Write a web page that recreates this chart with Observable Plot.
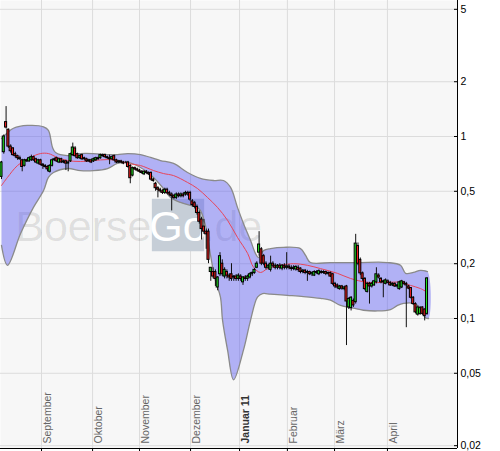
<!DOCTYPE html>
<html><head><meta charset="utf-8">
<script src="https://cdn.jsdelivr.net/npm/d3@7"></script>
<script src="https://cdn.jsdelivr.net/npm/@observablehq/plot@0.6"></script>
<style>body{margin:0;background:#fff} svg{display:block}</style>
</head><body><div id="chart"></div>
<script>
// Month labels and their position on the trading-day index axis
const months = ["September","Oktober","November","Dezember","Januar 11","Februar","März","April"];
const monthPos = [17.4, 39.6, 60, 82.2, 103.5, 124.3, 144.8, 167.8];
const yTicks = [0.02, 0.05, 0.1, 0.2, 0.5, 1, 2, 5];
const xDomain = [-0.43, 198.26];
const yDomain = [0.0193, 5.59];

// Daily candles: [open, high, low, close]
const candles = [
[.60,.73,.58,.72],[.82,1.02,.80,1.00],[1.20,1.46,1.10,1.12],[1.09,1.10,.86,.88],[.88,.90,.81,.83],
[.86,.87,.78,.79],[.80,.82,.76,.78],[.78,.79,.74,.76],[.76,.78,.74,.75],[.74,.75,.64,.68],
[.69,.75,.68,.74],[.74,.75,.72,.73],[.73,.77,.72,.76],[.74,.79,.73,.77],[.77,.78,.73,.74],
[.75,.76,.71,.72],[.71,.75,.70,.74],[.74,.75,.69,.70],[.70,.71,.66,.69],[.69,.70,.67,.68],
[.68,.69,.64,.66],[.64,.70,.63,.69],[.69,.75,.68,.74],[.74,.76,.73,.75],[.76,.77,.72,.73],
[.72,.76,.71,.75],[.75,.76,.71,.72],[.72,.74,.71,.73],[.73,.74,.65,.71],[.71,.73,.64,.72],
[.73,.81,.72,.80],[.79,.92,.78,.87],[.86,.88,.77,.78],[.80,.81,.75,.76],[.76,.79,.75,.78],
[.79,.80,.74,.75],[.76,.77,.74,.75],[.75,.76,.72,.73],[.73,.75,.72,.74],[.74,.75,.71,.72],
[.73,.76,.72,.75],[.74,.77,.73,.76],[.76,.77,.74,.75],[.76,.80,.75,.79],[.79,.80,.77,.78],
[.79,.80,.76,.77],[.77,.78,.75,.76],[.76,.79,.70,.75],[.75,.78,.74,.77],[.78,.79,.73,.74],
[.74,.75,.71,.72],[.72,.74,.71,.73],[.73,.74,.71,.72],[.72,.73,.70,.71],[.72,.73,.71,.72],
[.72,.73,.67,.68],[.69,.70,.55,.59],[.61,.68,.60,.67],[.67,.68,.65,.66],[.66,.67,.64,.65],
[.65,.66,.63,.64],[.64,.65,.62,.63],[.62,.65,.61,.64],[.64,.65,.62,.63],[.63,.64,.61,.62],
[.63,.64,.57,.58],[.58,.59,.56,.57],[.55,.56,.50,.52],[.52,.53,.46,.51],[.51,.52,.49,.50],
[.50,.51,.48,.49],[.49,.52,.48,.51],[.51,.52,.48,.49],[.49,.50,.47,.48],[.48,.49,.39,.47],
[.47,.48,.45,.46],[.46,.49,.45,.48],[.48,.49,.46,.47],[.47,.49,.46,.48],[.48,.49,.46,.47],
[.48,.50,.47,.49],[.49,.50,.47,.48],[.49,.50,.44,.45],[.44,.45,.41,.42],[.43,.44,.40,.41],
[.41,.42,.37,.38],[.38,.39,.33,.34],[.35,.36,.27,.31],[.32,.35,.29,.30],[.30,.31,.24,.29],
[.30,.31,.20,.21],[.18,.19,.16,.19],[.18,.19,.165,.17],[.18,.185,.15,.165],[.148,.17,.142,.168],
[.175,.23,.17,.22],[.20,.21,.17,.175],[.17,.19,.165,.185],[.18,.185,.165,.172],[.172,.176,.16,.168],
[.175,.20,.16,.165],[.168,.172,.16,.17],[.17,.174,.16,.165],[.165,.176,.16,.172],[.17,.174,.16,.165],
[.158,.17,.152,.168],[.168,.172,.16,.165],[.165,.173,.16,.17],[.168,.178,.165,.175],[.175,.18,.17,.178],
[.178,.188,.175,.185],[.19,.205,.188,.20],[.23,.30,.22,.255],[.24,.245,.195,.20],[.22,.225,.195,.20],
[.20,.205,.185,.19],[.19,.198,.185,.195],[.185,.22,.18,.20],[.20,.205,.19,.195],[.195,.20,.185,.19],
[.19,.198,.185,.195],[.195,.20,.185,.19],[.188,.198,.183,.195],[.195,.20,.185,.19],[.19,.23,.185,.193],
[.193,.198,.185,.19],[.19,.195,.182,.187],[.187,.195,.183,.19],[.186,.195,.182,.192],[.19,.195,.18,.185],
[.188,.19,.176,.18],[.18,.186,.176,.183],[.183,.186,.174,.178],[.178,.184,.16,.18],[.18,.182,.172,.175],
[.175,.18,.17,.178],[.172,.183,.17,.18],[.18,.183,.175,.178],[.175,.185,.172,.182],[.18,.184,.175,.178],
[.178,.183,.175,.18],[.18,.182,.172,.176],[.176,.18,.173,.178],[.178,.18,.168,.17],[.175,.177,.152,.155],
[.155,.158,.146,.15],[.152,.155,.145,.148],[.145,.152,.143,.15],[.15,.152,.143,.146],[.145,.15,.142,.148],
[.15,.152,.071,.124],[.115,.13,.112,.128],[.114,.132,.11,.13],[.125,.128,.115,.118],[.123,.29,.12,.258],
[.25,.26,.195,.20],[.21,.215,.172,.177],[.177,.18,.16,.165],[.165,.168,.142,.145],[.14,.158,.138,.155],
[.155,.158,.12,.15],[.15,.158,.147,.155],[.152,.162,.15,.16],[.158,.19,.155,.175],[.172,.176,.165,.168],
[.165,.168,.155,.158],[.158,.162,.13,.16],[.155,.165,.153,.162],[.16,.163,.155,.157],[.157,.16,.15,.152],
[.152,.157,.15,.155],[.155,.157,.148,.15],[.15,.154,.147,.152],[.145,.16,.143,.158],[.148,.162,.146,.16],
[.158,.16,.152,.155],[.155,.158,.089,.152],[.15,.152,.144,.146],[.147,.148,.128,.13],[.13,.132,.118,.12],
[.12,.122,.106,.108],[.105,.117,.103,.115],[.106,.116,.104,.114],[.115,.116,.104,.106],[.112,.113,.097,.103],
[.106,.168,.104,.166]
];

// Bollinger band: [index, value]
const bandUpper = [[0,.975],[2.6,1.05],[5.2,1.11],[11.3,1.15],[18.3,1.13],[20.4,1.08],[22.2,.87],[23.5,.817],
[28.7,.786],[34.3,.806],[40,.806],[46.1,.796],[50.4,.796],[54.8,.806],[60.4,.796],[64.8,.767],[69.1,.738],
[74.8,.711],[80.9,.634],[86.5,.588],[92.2,.573],[96.5,.573],[99.6,.525],[102.6,.408],[105.2,.333],[108.3,.268],
[110.4,.228],[111.7,.216],[113.9,.236],[117,.242],[122.6,.246],[130,.242],[132.2,.222],[134.3,.203],[143,.203],
[150.4,.203],[156,.203],[167.8,.203],[173.5,.196],[175.7,.177],[179.1,.179],[182.2,.184],[185.2,.181]];
const bandLower = [[0,.252],[2.6,.196],[8.3,.293],[13.9,.408],[18.3,.505],[20.4,.596],[22.6,.634],[28.7,.667],
[34.3,.650],[40,.650],[46.1,.667],[50.4,.711],[54.8,.720],[60.4,.676],[66.1,.596],[70.4,.518],[73.5,.462],
[77.8,.434],[82.2,.418],[85.2,.408],[86.5,.392],[88.7,.324],[90.9,.222],[93,.162],[95.2,.131],[96.1,.098],
[98.3,.067],[100.9,.046],[105.2,.067],[108.3,.098],[111.3,.131],[113.5,.137],[117,.136],[124.3,.134],
[131.3,.132],[138.7,.129],[143,.126],[147.4,.118],[153,.114],[157.4,.111],[163.5,.110],[169.1,.112],
[172.2,.118],[174.8,.121],[179.1,.121],[182.2,.114],[184.3,.101],[185.7,.100]];
const bandMid = [[0,.538],[2.6,.596],[7,.693],[12.6,.767],[17,.806],[20.4,.806],[24.3,.767],[28.7,.738],
[34.3,.729],[40,.738],[46.1,.747],[50.4,.738],[54.8,.711],[60.4,.693],[66.1,.650],[70.4,.626],[74.8,.610],
[80.9,.559],[85.2,.518],[89.6,.462],[93.9,.408],[98.3,.346],[102.6,.279],[107,.228],[109.6,.191],[112.6,.179],
[115.7,.188],[121.3,.196],[127,.200],[133,.196],[138.7,.188],[146.1,.177],[151.7,.166],[159.1,.158],
[167.8,.158],[173.5,.158],[177.8,.152],[182.2,.146],[185.2,.139]];

const data = candles.map(([o,h,l,c],i)=>({i,o,h,l,c,up:c>=o}));
const monthData = months.map((m,k)=>({m, x: monthPos[k]}));
const poly = bandUpper.concat(bandLower.slice().reverse());
const fmt = d => String(d).replace(".", ",");

const chart = Plot.plot({
  width: 500, height: 451,
  marginLeft: 0, marginRight: 43, marginTop: 0, marginBottom: 3,
  style: {fontFamily: "'Liberation Sans', Arial, sans-serif", fontSize: "10.5px", background: "#fff", color: "#000"},
  x: {domain: xDomain},
  y: {type: "log", domain: yDomain},
  marks: [
    Plot.frame({fill: "#f7f7f7", stroke: null}),
    Plot.gridX(monthPos, {stroke: "#dcdcdc", strokeOpacity: 1}),
    Plot.gridY(yTicks, {stroke: "#dcdcdc", strokeOpacity: 1}),
    // watermark
    Plot.dot([0], {x: null, y: null, frameAnchor: "middle", symbol: "square", r: 29.5, fill: "#c6ced7", stroke: null, dx: -51, dy: 0.5}),
    Plot.text(["Boerse"], {frameAnchor: "middle", textAnchor: "end", dx: -77.5, dy: 3, fontSize: 43, fill: "#000", fillOpacity: 0.1}),
    Plot.text(["Go"], {frameAnchor: "middle", textAnchor: "middle", dx: -51, dy: 3, fontSize: 43, fill: "#fff"}),
    Plot.text([".de"], {frameAnchor: "middle", textAnchor: "start", dx: -26.5, dy: 3, fontSize: 43, fill: "#000", fillOpacity: 0.1}),
    // Bollinger band
    Plot.line(poly, {x: d => d[0], y: d => d[1], fill: "#5c5cf2", fillOpacity: 0.45, stroke: null, curve: "catmull-rom"}),
    Plot.line(bandUpper, {x: d => d[0], y: d => d[1], stroke: "#8a8a8a", strokeWidth: 1.3, curve: "catmull-rom"}),
    Plot.line(bandLower, {x: d => d[0], y: d => d[1], stroke: "#8a8a8a", strokeWidth: 1.3, curve: "catmull-rom"}),
    Plot.line(bandMid, {x: d => d[0], y: d => d[1], stroke: "#e8455a", strokeWidth: 1, curve: "catmull-rom"}),
    // candles
    Plot.ruleX(data, {x: "i", y1: "l", y2: "h", stroke: "#111", strokeWidth: 1}),
    Plot.rect(data, {x1: d => d.i - 0.45, x2: d => d.i + 0.45, y1: "o", y2: "c", fill: d => d.up ? "#22e022" : "#ee2020", stroke: "#000", strokeWidth: 1}),
    // axes
    Plot.ruleY([yDomain[0]], {stroke: "#000"}),
    Plot.ruleX([xDomain[1]], {stroke: "#000"}),
    Plot.axisY(yTicks, {anchor: "right", tickSize: 4, dx: -4, tickPadding: 3, tickFormat: fmt, label: null, fill: "#000"}),
    Plot.axisX(monthPos, {anchor: "bottom", tickSize: 3, tickFormat: () => "", label: null}),
    Plot.text(monthData.filter(d => !d.m.startsWith("Januar")), {x: "x", y: () => yDomain[0], text: "m", rotate: -90, textAnchor: "start", dx: 6, dy: -5, fill: "#666", fontSize: 10.5}),
    Plot.text(monthData.filter(d => d.m.startsWith("Januar")), {x: "x", y: () => yDomain[0], text: "m", rotate: -90, textAnchor: "start", dx: 6, dy: -5, fill: "#333", fontWeight: "bold", fontSize: 10.5})
  ]
});
document.getElementById("chart").appendChild(chart);
</script>
</body></html>
